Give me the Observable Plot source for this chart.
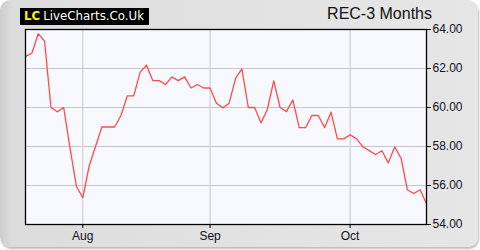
<!DOCTYPE html>
<html>
<head>
<meta charset="utf-8">
<script src="https://cdn.jsdelivr.net/npm/d3@7"></script>
<script src="https://cdn.jsdelivr.net/npm/@observablehq/plot@0.6"></script>
<style>
  html, body { margin: 0; padding: 0; background: #ffffff; }
  #wrap { position: relative; width: 480px; height: 250px; overflow: hidden; }
  #bg { position: absolute; left: 0; top: 0; width: 478px; height: 247px; border-radius: 10px;
        background: linear-gradient(to right, #cdcdcd 0px, #dcdcdc 12px, #e2e2e2 240px, #e6e6e6 480px);
        box-shadow: 1px 2px 2px #bdbdbd; }
  #logo { position: absolute; left: 20px; top: 8px; width: 129px; height: 17px; background: #000;
          font-family: "DejaVu Sans", sans-serif; font-size: 11.8px; line-height: 17px; white-space: nowrap; overflow: hidden; }
  #logo .lc { color: #f5f500; font-weight: bold; margin-left: 4px; }
  #logo .name { color: #ffffff; margin-left: 3px; }
  #title { position: absolute; right: 48px; top: 5px; font-family: "Liberation Sans", Arial, sans-serif;
           font-size: 16px; color: #111; white-space: nowrap; }
  #chart { position: absolute; left: 0; top: 0; }
</style>
</head>
<body>
<div id="wrap">
  <div id="bg"></div>
  <div id="chart"></div>
  <div id="logo"><span class="lc">LC</span><span class="name">LiveCharts.Co.Uk</span></div>
  <div id="title">REC-3 Months</div>
</div>
<script>
// Trading-day index series (64 sessions), prices
const prices = [
  62.62, 62.78, 63.78, 63.40, 60.00, 59.78, 60.00, 57.90, 55.96, 55.37,
  57.00, 58.00, 59.00, 59.00, 59.00, 59.59, 60.60, 60.60, 61.80, 62.17,
  61.38, 61.38, 61.18, 61.57, 61.38, 61.57, 61.00, 61.18, 61.00, 61.00,
  60.22, 59.98, 60.22, 61.49, 61.98, 60.00, 60.00, 59.21, 59.91, 61.37,
  60.00, 59.79, 60.39, 58.97, 58.97, 59.59, 59.59, 58.97, 59.76, 58.39,
  58.39, 58.60, 58.39, 57.99, 57.79, 57.59, 57.78, 57.16, 57.98, 57.40,
  55.78, 55.59, 55.78, 55.06
];
const monthTickIndex = [9, 29, 51];
const monthTickLabels = ["Aug", "Sep", "Oct"];
const yTicks = [54, 56, 58, 60, 62, 64];

const data = prices.map((p, i) => ({i, p}));
const labelFor = new Map(monthTickIndex.map((v, k) => [v, monthTickLabels[k]]));

const chart = Plot.plot({
  width: 480,
  height: 250,
  marginLeft: 25,
  marginRight: 54,
  marginTop: 29,
  marginBottom: 26,
  style: { background: "transparent", fontFamily: "'Liberation Sans', Arial, sans-serif", fontSize: "12px", color: "#111122" },
  x: { type: "linear", domain: [0, prices.length - 1], label: null },
  y: { domain: [54, 64], label: null },
  marks: [
    Plot.frame({ fill: "#f8f9ff", stroke: null }),
    Plot.gridX(monthTickIndex, { stroke: "#c8c8c8", strokeOpacity: 1, strokeWidth: 1 }),
    Plot.gridY(yTicks, { stroke: "#c8c8c8", strokeOpacity: 1, strokeWidth: 1 }),
    Plot.line(data, { x: "i", y: "p", stroke: "#ff4a4a", strokeWidth: 1.3 }),
    Plot.frame({ stroke: "#000", strokeWidth: 1.3 }),
    Plot.axisY(yTicks, { anchor: "right", label: null, tickSize: 4, tickPadding: 2, tickFormat: d => d.toFixed(2), stroke: "#000", fontSize: 12 }),
    Plot.axisX(monthTickIndex, { anchor: "bottom", label: null, tickSize: 4, tickPadding: 3, tickFormat: d => labelFor.get(d), stroke: "#000", fontSize: 12 })
  ]
});
document.getElementById("chart").appendChild(chart);
</script>
</body>
</html>
